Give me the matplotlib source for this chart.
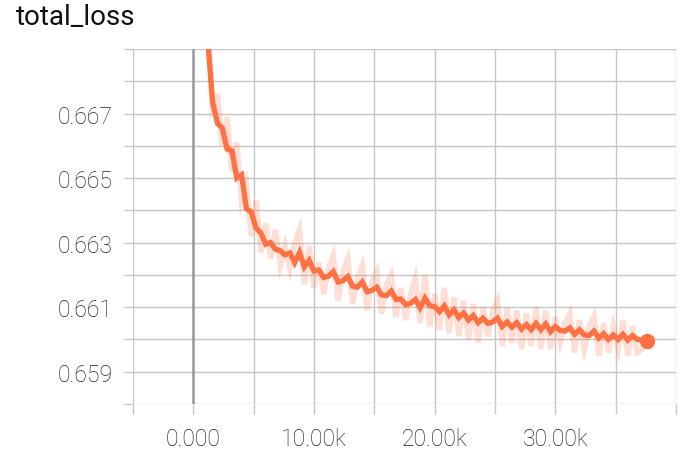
"""TensorBoard-style scalar panel: total_loss vs. training step."""
import matplotlib
matplotlib.use("Agg")
import matplotlib.pyplot as plt
from matplotlib.ticker import FixedLocator, FuncFormatter

# training step (thousands)
steps_k = [
    1.2, 1.6, 2.0, 2.4, 2.8, 3.2, 3.6, 4.0, 4.4, 4.8,
    5.2, 5.6, 6.0, 6.4, 6.8, 7.2, 7.6, 8.0, 8.4, 8.8,
    9.2, 9.6, 10.0, 10.4, 10.8, 11.2, 11.6, 12.0, 12.4, 12.8,
    13.2, 13.6, 14.0, 14.4, 14.8, 15.2, 15.6, 16.0, 16.4, 16.8,
    17.2, 17.6, 18.0, 18.4, 18.8, 19.2, 19.6, 20.0, 20.4, 20.8,
    21.2, 21.6, 22.0, 22.4, 22.8, 23.2, 23.6, 24.0, 24.4, 24.8,
    25.2, 25.6, 26.0, 26.4, 26.8, 27.2, 27.6, 28.0, 28.4, 28.8,
    29.2, 29.6, 30.0, 30.4, 30.8, 31.2, 31.6, 32.0, 32.4, 32.8,
    33.2, 33.6, 34.0, 34.4, 34.8, 35.2, 35.6, 36.0, 36.4, 36.8,
    37.2, 37.6,
]

# smoothed loss
loss_smooth = [
    0.66925, 0.66735, 0.66670, 0.66655, 0.66590, 0.66585, 0.66500, 0.66510, 0.66405, 0.66395,
    0.66345, 0.66330, 0.66295, 0.66300, 0.66280, 0.66275, 0.66262, 0.66268, 0.66238, 0.66270,
    0.66225, 0.66245, 0.66212, 0.66215, 0.66192, 0.66196, 0.66210, 0.66178, 0.66182, 0.66195,
    0.66165, 0.66162, 0.66178, 0.66148, 0.66152, 0.66162, 0.66138, 0.66136, 0.66150, 0.66124,
    0.66125, 0.66108, 0.66112, 0.66124, 0.66098, 0.66128, 0.66104, 0.66102, 0.66086, 0.66104,
    0.66076, 0.66092, 0.66068, 0.66082, 0.66060, 0.66074, 0.66052, 0.66066, 0.66050, 0.66054,
    0.66066, 0.66040, 0.66054, 0.66038, 0.66052, 0.66032, 0.66046, 0.66030, 0.66050, 0.66030,
    0.66048, 0.66024, 0.66040, 0.66028, 0.66026, 0.66036, 0.66016, 0.66030, 0.66014, 0.66012,
    0.66026, 0.66004, 0.66018, 0.66000, 0.66014, 0.66000, 0.66016, 0.65998, 0.66012, 0.66000,
    0.65998, 0.65995,
]

# raw loss (faint)
loss_raw = [
    0.66980, 0.66690, 0.66760, 0.66600, 0.66690, 0.66520, 0.66610, 0.66430, 0.66480, 0.66320,
    0.66430, 0.66270, 0.66360, 0.66250, 0.66340, 0.66230, 0.66290, 0.66220, 0.66300, 0.66340,
    0.66170, 0.66290, 0.66160, 0.66240, 0.66140, 0.66220, 0.66260, 0.66120, 0.66210, 0.66250,
    0.66110, 0.66190, 0.66230, 0.66090, 0.66180, 0.66210, 0.66080, 0.66170, 0.66200, 0.66070,
    0.66160, 0.66060, 0.66140, 0.66190, 0.66050, 0.66200, 0.66040, 0.66140, 0.66030, 0.66160,
    0.66020, 0.66130, 0.66010, 0.66120, 0.66000, 0.66110, 0.65990, 0.66100, 0.66010, 0.66090,
    0.66120, 0.65980, 0.66100, 0.65990, 0.66090, 0.65970, 0.66080, 0.65980, 0.66100, 0.65970,
    0.66090, 0.65970, 0.66070, 0.65990, 0.66050, 0.66080, 0.65960, 0.66060, 0.65970, 0.66040,
    0.66070, 0.65950, 0.66050, 0.65960, 0.66040, 0.65970, 0.66060, 0.65950, 0.66040, 0.65960,
    0.65970, 0.66000,
]

x_ticks = [-5000, 0, 5000, 10000, 15000, 20000, 25000, 30000, 35000, 40000]
x_labeled = {0: "0.000", 10000: "10.00k", 20000: "20.00k", 30000: "30.00k"}
y_ticks = [0.658, 0.659, 0.660, 0.661, 0.662, 0.663, 0.664, 0.665, 0.666, 0.667, 0.668, 0.669]
y_labeled = [0.659, 0.661, 0.663, 0.665, 0.667]

LINE = "#ff7043"
GRID = "#c6c6c6"

plt.rcParams["font.family"] = ["Roboto", "DejaVu Sans"]

fig = plt.figure(figsize=(6.88, 4.56), dpi=100)
ax = fig.add_axes([133 / 688, 51 / 456, 543 / 688, 355 / 456])

steps = [s * 1000 for s in steps_k]
ax.plot(steps, loss_raw, color=LINE, alpha=0.22, lw=4, solid_joinstyle="miter")
ax.plot(steps, loss_smooth, color=LINE, lw=3.8, solid_joinstyle="miter")
ax.plot(steps[-1], loss_smooth[-1], "o", color=LINE, ms=10, clip_on=False)

ax.set_xlim(-5000, 40000)
ax.set_ylim(0.658, 0.669)

ax.xaxis.set_major_locator(FixedLocator(x_ticks))
ax.xaxis.set_major_formatter(FuncFormatter(lambda v, p: x_labeled.get(int(round(v)), "")))
ax.yaxis.set_major_locator(FixedLocator(y_ticks))
ax.yaxis.set_major_formatter(FuncFormatter(
    lambda v, p: f"{v:.3f}" if any(abs(v - t) < 1e-7 for t in y_labeled) else ""))

ax.grid(True, color=GRID, lw=1.0, zorder=0)
ax.set_axisbelow(True)
ax.axvline(0, color="#999999", lw=1.8, zorder=1)
for s in ax.spines.values():
    s.set_visible(False)
ax.tick_params(axis="both", color=GRID, width=1.0, labelcolor="#222222", labelsize=16.5)
ax.tick_params(axis="x", length=7.5, pad=9)
ax.tick_params(axis="y", length=6.5, pad=8.5)
for lab in ax.get_xticklabels() + ax.get_yticklabels():
    lab.set_fontweight("light")

fig.text(16 / 688, 1 - 25 / 456, "total_loss", fontsize=20, color="#111111",
         ha="left", va="baseline")

fig.savefig("out.png", dpi=100)
